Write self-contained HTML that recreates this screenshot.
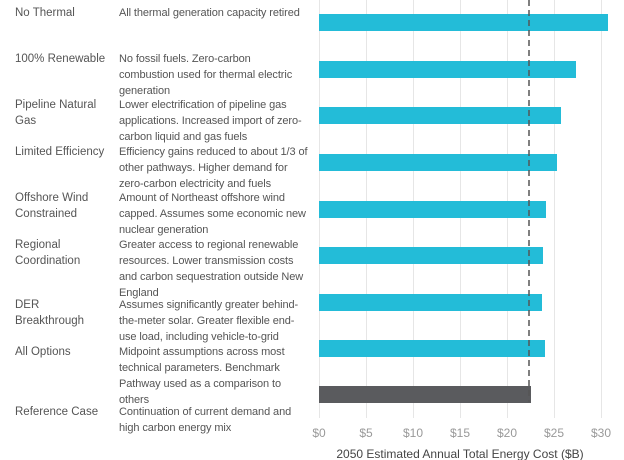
<!DOCTYPE html>
<html><head><style>
body{margin:0;width:624px;height:460px;background:#fff;font-family:"Liberation Sans",sans-serif;position:relative;overflow:hidden}
.n,.d{position:absolute;font-size:11px;line-height:16px;color:#555;white-space:nowrap;letter-spacing:-0.1px}
.n{left:15px;font-size:11.5px;letter-spacing:0}
.d{left:119px}
</style></head><body>
<div class="n" style="top:5px">No Thermal</div><div class="d" style="top:5px">All thermal generation capacity retired</div>
<div class="n" style="top:51px">100% Renewable</div><div class="d" style="top:51px">No fossil fuels. Zero-carbon<br>combustion used for thermal electric<br>generation</div>
<div class="n" style="top:97px">Pipeline Natural<br>Gas</div><div class="d" style="top:97px">Lower electrification of pipeline gas<br>applications. Increased import of zero-<br>carbon liquid and gas fuels</div>
<div class="n" style="top:144px">Limited Efficiency</div><div class="d" style="top:144px">Efficiency gains reduced to about 1/3 of<br>other pathways. Higher demand for<br>zero-carbon electricity and fuels</div>
<div class="n" style="top:190px">Offshore Wind<br>Constrained</div><div class="d" style="top:190px">Amount of Northeast offshore wind<br>capped. Assumes some economic new<br>nuclear generation</div>
<div class="n" style="top:237px">Regional<br>Coordination</div><div class="d" style="top:237px">Greater access to regional renewable<br>resources. Lower transmission costs<br>and carbon sequestration outside New<br>England</div>
<div class="n" style="top:297px">DER<br>Breakthrough</div><div class="d" style="top:297px">Assumes significantly greater behind-<br>the-meter solar. Greater flexible end-<br>use load, including vehicle-to-grid</div>
<div class="n" style="top:344px">All Options</div><div class="d" style="top:344px">Midpoint assumptions across most<br>technical parameters. Benchmark<br>Pathway used as a comparison to<br>others</div>
<div class="n" style="top:404px">Reference Case</div><div class="d" style="top:404px">Continuation of current demand and<br>high carbon energy mix</div>
<svg width="624" height="460" style="position:absolute;left:0;top:0">
<g stroke="#e6e6e6" stroke-width="1">
<line x1="319.5" y1="0" x2="319.5" y2="418"/><line x1="366.5" y1="0" x2="366.5" y2="418"/><line x1="413.5" y1="0" x2="413.5" y2="418"/><line x1="460.5" y1="0" x2="460.5" y2="418"/><line x1="507.5" y1="0" x2="507.5" y2="418"/><line x1="554.5" y1="0" x2="554.5" y2="418"/><line x1="601.5" y1="0" x2="601.5" y2="418"/>
</g>
<g fill="#23bcd8">
<rect x="319" y="14" width="289" height="17"/>
<rect x="319" y="61" width="257" height="17"/>
<rect x="319" y="107" width="242" height="17"/>
<rect x="319" y="154" width="238" height="17"/>
<rect x="319" y="201" width="227" height="17"/>
<rect x="319" y="247" width="224" height="17"/>
<rect x="319" y="294" width="223" height="17"/>
<rect x="319" y="340" width="226" height="17"/>
</g>
<rect x="319" y="386" width="212" height="17" fill="#5a5b5e"/>
<line x1="529" y1="0" x2="529" y2="402" stroke="#555" stroke-width="1.5" stroke-dasharray="6,4"/>
<g fill="#999" font-size="12" text-anchor="middle" font-family="Liberation Sans,sans-serif">
<text x="319" y="437">$0</text><text x="366" y="437">$5</text><text x="413" y="437">$10</text><text x="460" y="437">$15</text><text x="507" y="437">$20</text><text x="554" y="437">$25</text><text x="601" y="437">$30</text>
</g>
<text x="460" y="458" fill="#444" font-size="12" text-anchor="middle" font-family="Liberation Sans,sans-serif">2050 Estimated Annual Total Energy Cost ($B)</text>
</svg>
</body></html>
